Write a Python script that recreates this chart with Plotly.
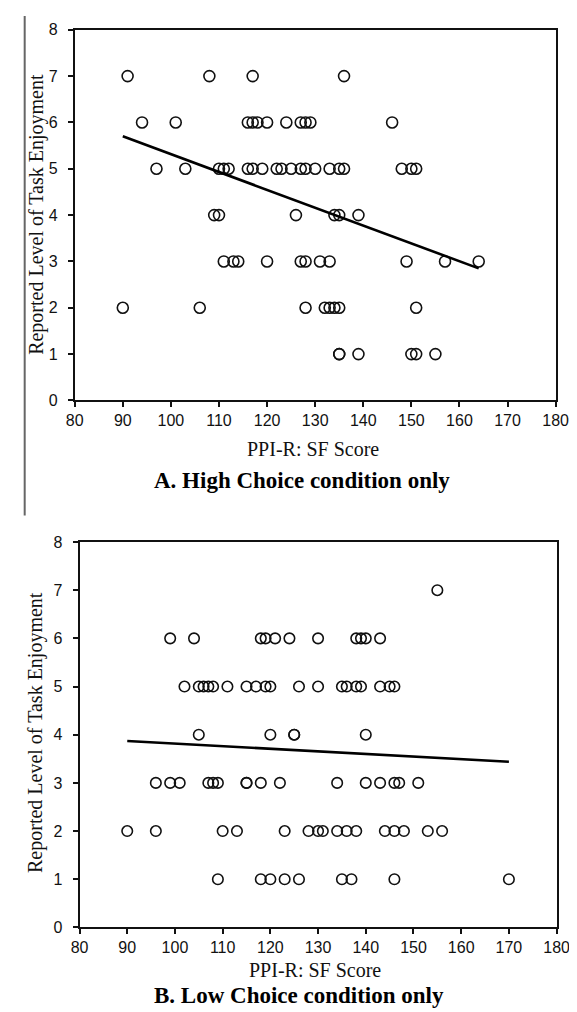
import plotly.graph_objects as go

W, H = 577, 1012

# ---- Panel A: High Choice condition (PPI-R: SF score per enjoyment level)
a_lvl7 = [91, 108, 117, 136]
a_lvl6 = [94, 101, 116, 117, 118, 120, 124, 127, 128, 129, 146]
a_lvl5 = [97, 103, 110, 111, 112, 116, 117, 119, 122, 123, 125, 127, 128, 130, 133, 135, 136, 148, 150, 151]
a_lvl4 = [109, 110, 126, 134, 135, 139]
a_lvl3 = [111, 113, 114, 120, 127, 128, 131, 133, 149, 157, 164]
a_lvl2 = [90, 106, 128, 132, 133, 134, 135, 151]
a_lvl1 = [135, 135, 139, 150, 151, 155]
a_fit_x = [90, 164]
a_fit_y = [5.70, 2.85]

# ---- Panel B: Low Choice condition
b_lvl7 = [155]
b_lvl6 = [99, 104, 118, 119, 121, 124, 130, 138, 139, 140, 143]
b_lvl5 = [102, 105, 106, 107, 108, 111, 115, 117, 119, 120, 126, 130, 135, 136, 138, 139, 143, 145, 146]
b_lvl4 = [105, 120, 125, 125, 140]
b_lvl3 = [96, 99, 101, 107, 108, 109, 115, 115, 118, 122, 134, 140, 143, 146, 147, 151]
b_lvl2 = [90, 96, 110, 113, 123, 128, 130, 131, 134, 136, 138, 144, 146, 148, 153, 156]
b_lvl1 = [109, 118, 120, 123, 126, 135, 137, 146, 170]
b_fit_x = [90, 170]
b_fit_y = [3.87, 3.44]

x_ticks = [80, 90, 100, 110, 120, 130, 140, 150, 160, 170, 180]
y_ticks = [0, 1, 2, 3, 4, 5, 6, 7, 8]
x_title = "PPI-R: SF Score"
y_title = "Reported Level of Task Enjoyment"
title_a = "A. High Choice condition only"
title_b = "B. Low Choice condition only"


def flatten(levels):
    xs, ys = [], []
    for lvl, vals in levels:
        xs += vals
        ys += [lvl] * len(vals)
    return xs, ys


a_x, a_y = flatten([(7, a_lvl7), (6, a_lvl6), (5, a_lvl5), (4, a_lvl4), (3, a_lvl3), (2, a_lvl2), (1, a_lvl1)])
b_x, b_y = flatten([(7, b_lvl7), (6, b_lvl6), (5, b_lvl5), (4, b_lvl4), (3, b_lvl3), (2, b_lvl2), (1, b_lvl1)])


def px(v):
    return v / W


def py(v):
    return 1 - v / H


marker = dict(symbol="circle-open", size=11, color="#111", line=dict(width=1.6, color="#111"))

fig = go.Figure()
fig.add_trace(go.Scatter(x=a_x, y=a_y, mode="markers", marker=marker, xaxis="x", yaxis="y", showlegend=False))
fig.add_trace(go.Scatter(x=a_fit_x, y=a_fit_y, mode="lines", line=dict(color="#000", width=2.6),
                         xaxis="x", yaxis="y", showlegend=False))
fig.add_trace(go.Scatter(x=b_x, y=b_y, mode="markers", marker=dict(marker, size=10.5), xaxis="x2", yaxis="y2", showlegend=False))
fig.add_trace(go.Scatter(x=b_fit_x, y=b_fit_y, mode="lines", line=dict(color="#000", width=2.6),
                         xaxis="x2", yaxis="y2", showlegend=False))

tickfont = dict(family="Liberation Sans, Arial, sans-serif", size=16, color="#111")
axcommon = dict(showline=True, linecolor="#111", linewidth=1.6, mirror=True, ticks="outside",
                ticklen=5, tickwidth=1.5, tickcolor="#111", showgrid=False, zeroline=False,
                tickfont=tickfont)

fig.update_layout(
    width=W, height=H, autosize=False,
    margin=dict(l=0, r=0, t=0, b=0),
    paper_bgcolor="white", plot_bgcolor="white",
    xaxis=dict(axcommon, domain=[px(60), px(560)], range=[80, 180], tickvals=x_ticks, anchor="y"),
    yaxis=dict(axcommon, domain=[py(391), py(14)], range=[0, 8], tickvals=y_ticks, anchor="x",
               ticklabelstandoff=7),
    xaxis2=dict(axcommon, domain=[px(65), px(561)], range=[80, 180], tickvals=x_ticks, anchor="y2"),
    yaxis2=dict(axcommon, domain=[py(927), py(535)], range=[0, 8], tickvals=y_ticks, anchor="x2",
                ticklabelstandoff=7),
)

serif = "Liberation Serif, Times New Roman, serif"
ann = [
    dict(text=y_title, x=px(20), y=py(202), textangle=-90, font=dict(family=serif, size=20, color="#111")),
    dict(text=y_title, x=px(20), y=py(729), textangle=-90, font=dict(family=serif, size=20, color="#111")),
    dict(text=x_title, x=px(308), y=py(440), font=dict(family=serif, size=20, color="#111")),
    dict(text=x_title, x=px(310), y=py(970), font=dict(family=serif, size=20, color="#111")),
    dict(text="<b>" + title_a + "</b>", x=px(296), y=py(472), font=dict(family=serif, size=23, color="#000")),
    dict(text="<b>" + title_b + "</b>", x=px(293), y=py(996), font=dict(family=serif, size=23, color="#000")),
]
for a in ann:
    a.update(xref="paper", yref="paper", showarrow=False, xanchor="center", yanchor="middle")
fig.update_layout(annotations=ann)

# page border line at left of panel A
fig.add_shape(type="line", xref="paper", yref="paper", x0=px(8), x1=px(8), y0=py(0), y1=py(508),
              line=dict(color="#666", width=2))

fig.write_html("out.html")
